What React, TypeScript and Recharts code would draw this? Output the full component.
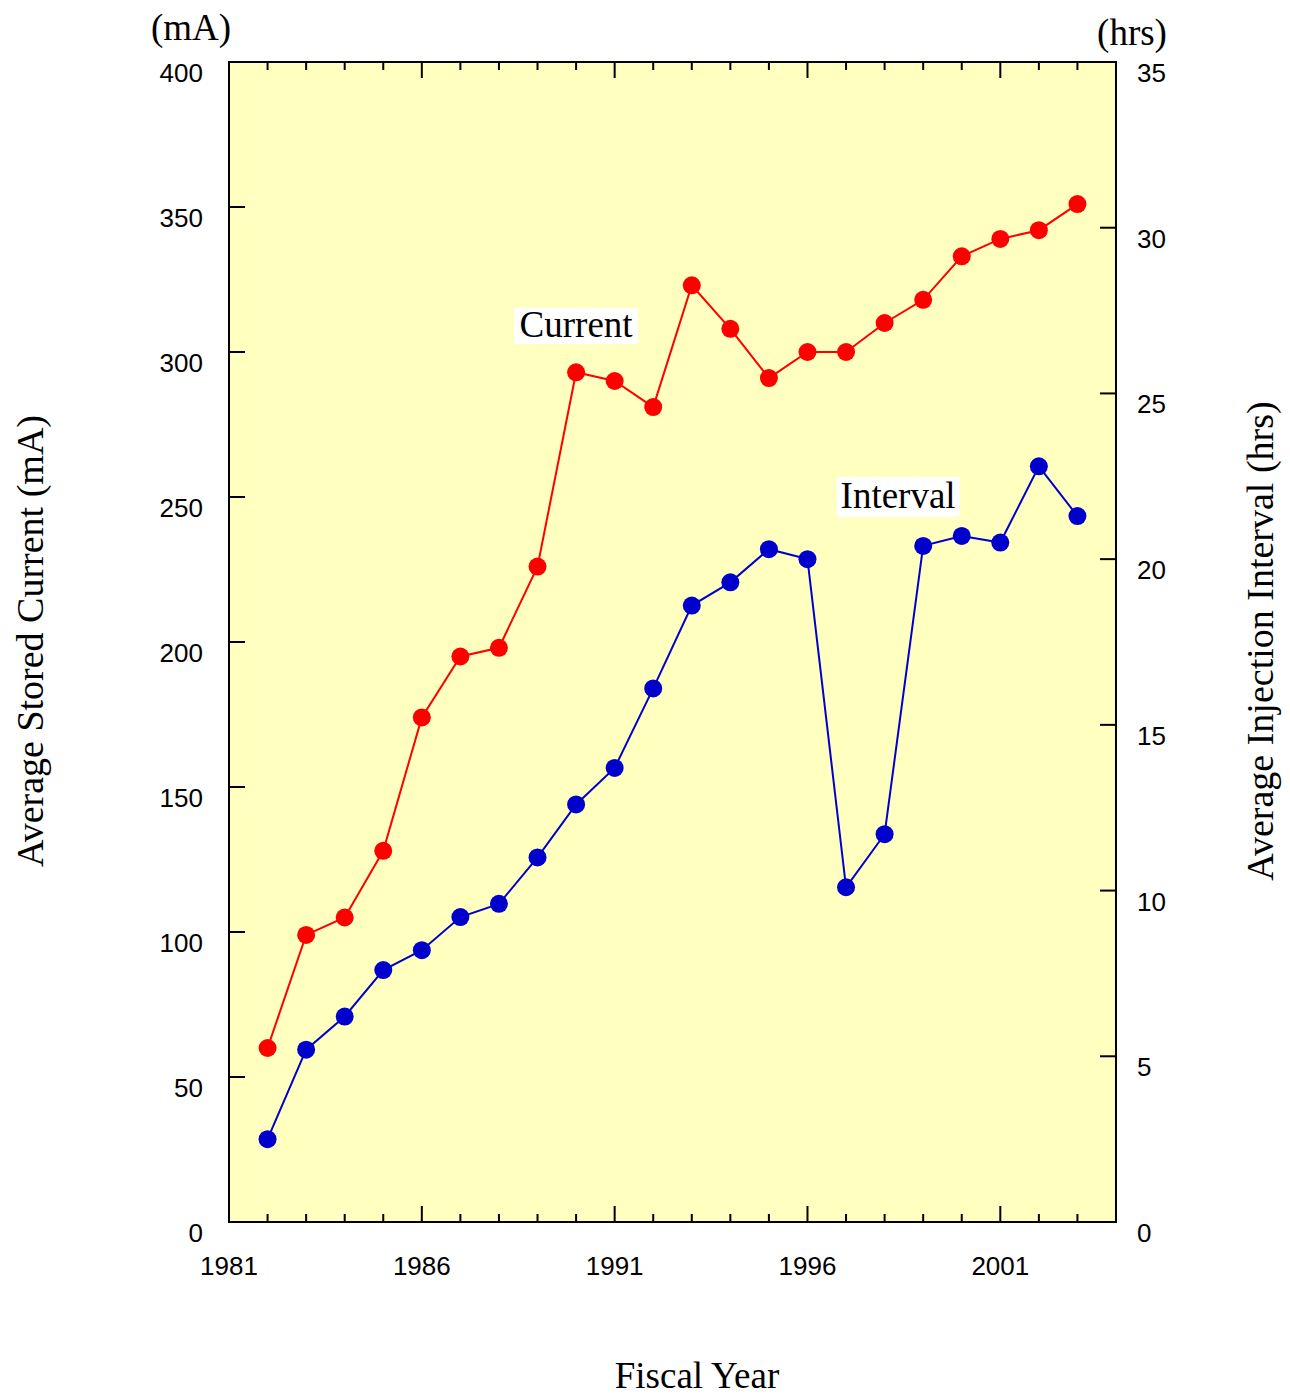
import React from 'react';
import { LineChart, Line, XAxis, YAxis, CartesianGrid, ReferenceArea, ReferenceDot, Customized } from 'recharts';

// fiscal years and the two series
const years = [1982, 1983, 1984, 1985, 1986, 1987, 1988, 1989, 1990, 1991, 1992, 1993, 1994, 1995, 1996, 1997, 1998, 1999, 2000, 2001, 2002, 2003];
const currentMA = [60, 99, 105, 128, 174, 195, 198, 226, 293, 290, 281, 323, 308, 291, 300, 300, 310, 318, 333, 339, 342, 351];
const intervalHrs = [2.5, 5.2, 6.2, 7.6, 8.2, 9.2, 9.6, 11.0, 12.6, 13.7, 16.1, 18.6, 19.3, 20.3, 20.0, 10.1, 11.7, 20.4, 20.7, 20.5, 22.8, 21.3];

const xTicks = [1981, 1982, 1983, 1984, 1985, 1986, 1987, 1988, 1989, 1990, 1991, 1992, 1993, 1994, 1995, 1996, 1997, 1998, 1999, 2000, 2001, 2002, 2003, 2004];
const leftTicks = [0, 50, 100, 150, 200, 250, 300, 350, 400];
const rightTicks = [0, 5, 10, 15, 20, 25, 30, 35];

const data = years.map((year, i) => ({ year, current: currentMA[i], interval: intervalHrs[i] }));

const W = 1290;
const H = 1397;
const PLOT_H = 1160;
const AXIS_W = 60;
const NUM_FONT = '"Liberation Sans", Arial, sans-serif';
const SERIF = '"Liberation Serif", "Times New Roman", serif';

const BottomTick = (props: any) => {
  const { x, y, payload } = props;
  const major = (payload.value - 1981) % 5 === 0;
  const len = major ? 16 : 8;
  return (
    <g>
      <line x1={x} x2={x} y1={y} y2={y - len} stroke="#000" strokeWidth={2} />
      <line x1={x} x2={x} y1={y - PLOT_H} y2={y - PLOT_H + len} stroke="#000" strokeWidth={2} />
      {major && (
        <text x={x} y={y + 53} textAnchor="middle" fontFamily={NUM_FONT} fontSize={26} fill="#000">
          {payload.value}
        </text>
      )}
    </g>
  );
};

const LeftTick = (props: any) => {
  const { x, y, payload } = props;
  return (
    <g>
      <line x1={x} x2={x + 16} y1={y} y2={y} stroke="#000" strokeWidth={2} />
      <text x={x - 26} y={y + 20} textAnchor="end" fontFamily={NUM_FONT} fontSize={26} fill="#000">
        {payload.value}
      </text>
    </g>
  );
};

const RightTick = (props: any) => {
  const { x, y, payload } = props;
  return (
    <g>
      <line x1={x} x2={x - 16} y1={y} y2={y} stroke="#000" strokeWidth={2} />
      <text x={x + 21} y={y + 20} textAnchor="start" fontFamily={NUM_FONT} fontSize={26} fill="#000">
        {payload.value}
      </text>
    </g>
  );
};

const boxLabel = (text: string, w: number, h: number) => (p: any) => {
  const { cx, cy } = p;
  return (
    <g>
      <rect x={cx - w / 2} y={cy - h / 2} width={w} height={h} fill="#fff" />
      <text x={cx} y={cy + 11} textAnchor="middle" fontFamily={SERIF} fontSize={37} fill="#000">
        {text}
      </text>
    </g>
  );
};

const Titles = () => (
  <g fontFamily={SERIF} fill="#000">
    <text x={191} y={40} textAnchor="middle" fontSize={37}>(mA)</text>
    <text x={1132} y={45} textAnchor="middle" fontSize={37}>(hrs)</text>
    <text x={697} y={1388} textAnchor="middle" fontSize={37}>Fiscal Year</text>
    <text x={43} y={641} textAnchor="middle" fontSize={38} transform="rotate(-90, 43, 641)">
      Average Stored Current (mA)
    </text>
    <text x={1273} y={641} textAnchor="middle" fontSize={38} transform="rotate(-90, 1273, 641)">
      Average Injection Interval (hrs)
    </text>
  </g>
);

export default function App() {
  return (
    <div style={{ position: 'absolute', left: 0, top: 0 }}>
      <LineChart
        width={W}
        height={H}
        data={data}
        margin={{ top: 62, left: 229 - AXIS_W, right: W - 1116 - AXIS_W, bottom: H - 1222 - AXIS_W }}
      >
        <CartesianGrid fill="#ffffc0" horizontal={false} vertical={false} />
        <ReferenceArea
          yAxisId="left"
          x1={1981}
          x2={2004}
          y1={0}
          y2={400}
          fill="none"
          fillOpacity={0}
          stroke="#000"
          strokeWidth={2}
        />
        <XAxis
          dataKey="year"
          type="number"
          domain={[1981, 2004]}
          ticks={xTicks}
          interval={0}
          height={AXIS_W}
          tickSize={0}
          tickMargin={0}
          tickLine={false}
          axisLine={false}
          tick={(p: any) => <BottomTick {...p} />}
        />
        <YAxis
          yAxisId="left"
          type="number"
          domain={[0, 400]}
          ticks={leftTicks}
          interval={0}
          width={AXIS_W}
          tickSize={0}
          tickMargin={0}
          tickLine={false}
          axisLine={false}
          tick={(p: any) => <LeftTick {...p} />}
        />
        <YAxis
          yAxisId="right"
          orientation="right"
          type="number"
          domain={[0, 35]}
          ticks={rightTicks}
          interval={0}
          width={AXIS_W}
          tickSize={0}
          tickMargin={0}
          tickLine={false}
          axisLine={false}
          tick={(p: any) => <RightTick {...p} />}
        />
        <ReferenceDot yAxisId="left" x={1990} y={309} r={0} shape={boxLabel('Current', 124, 36)} />
        <ReferenceDot yAxisId="left" x={1998.35} y={250} r={0} shape={boxLabel('Interval', 123, 40)} />
        <Line
          yAxisId="left"
          dataKey="current"
          stroke="#ff0000"
          strokeWidth={2}
          dot={{ r: 9, fill: '#ff0000', stroke: '#ff0000', strokeWidth: 0 }}
          isAnimationActive={false}
        />
        <Line
          yAxisId="right"
          dataKey="interval"
          stroke="#0000cc"
          strokeWidth={2}
          dot={{ r: 9, fill: '#0000cc', stroke: '#0000cc', strokeWidth: 0 }}
          isAnimationActive={false}
        />
        <Customized component={<Titles />} />
      </LineChart>
    </div>
  );
}
